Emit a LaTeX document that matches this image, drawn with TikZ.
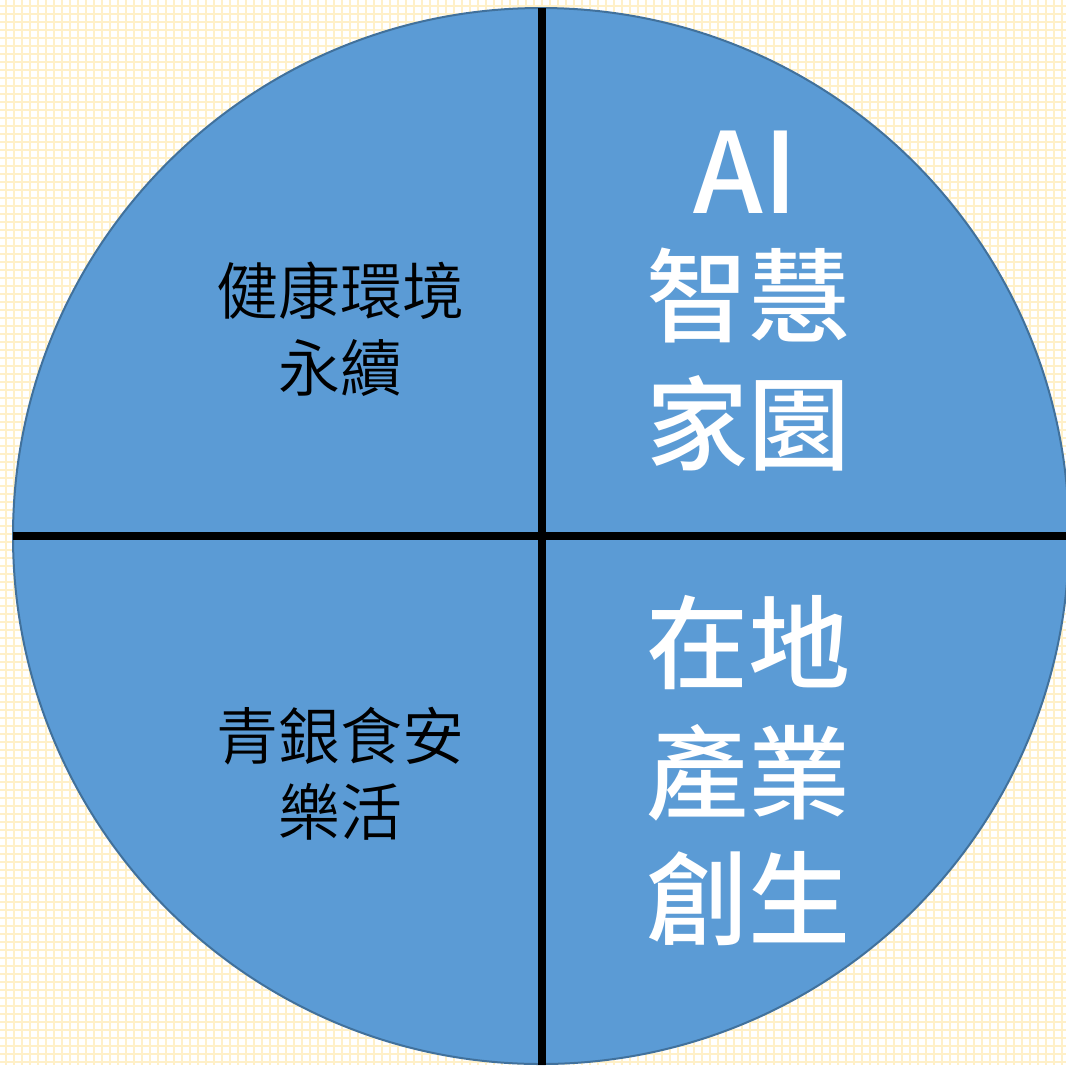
\documentclass[tikz,border=0pt]{standalone}
\usepackage{fontspec}
\newfontfamily\cjklight{Noto Sans CJK TC DemiLight}
\newfontfamily\cjkmed{Noto Sans CJK TC Medium}
\definecolor{gridcol}{HTML}{FFF0C8}
\definecolor{fillblue}{HTML}{5B9BD5}
\definecolor{edgeblue}{HTML}{41719C}
\tikzset{
  lefttext/.style={font=\cjklight\fontsize{46.5pt}{50pt}\selectfont, text=black, inner sep=0pt, text height=0.88em, text depth=0.12em},
  righttext/.style={font=\cjkmed\fontsize{76.5pt}{80pt}\selectfont, text=white, inner sep=0pt, text height=0.88em, text depth=0.12em},
  aitext/.style={font=\cjkmed\fontsize{84pt}{88pt}\selectfont, text=white, inner sep=0pt, anchor=base},
  divider/.style={line width=6pt, draw=black},
}
\begin{document}
\begin{tikzpicture}[x=0.75pt,y=-0.75pt]
\useasboundingbox (0,0) rectangle (1066,1065);
\clip (0,0) rectangle (1066,1065);
\fill[white] (0,0) rectangle (1066,1065);
\foreach \k in {0,...,133} {
  \draw[gridcol, line width=1.5pt] ({6+8*\k},0) -- ({6+8*\k},1065);
  \draw[gridcol, line width=1.5pt] (0,{6+8*\k}) -- (1066,{6+8*\k});
}
\coordinate (c) at (541,536);
\node[circle, minimum size=1056*0.75pt, inner sep=0pt, fill=fillblue, draw=edgeblue, line width=1.5pt] (disc) at (c) {};
\coordinate (vtop) at (542,8);
\coordinate (vbot) at (542,1065);
\coordinate (hleft) at (13,536);
\coordinate (hright) at (1066,536);
\draw[divider] (vtop) -- (vbot);
\draw[divider] (hleft) -- (hright);
\node[lefttext] (t1a) at (340,309) {健康環境};
\node[lefttext] (t1b) at (340,386) {永續};
\node[lefttext] (t3a) at (340,754) {青銀食安};
\node[lefttext] (t3b) at (340,830) {樂活};
\node[aitext] (ai) at (746,213) {AI};
\node[righttext] (t2a) at (748,329) {智慧};
\node[righttext] (t2b) at (748,457) {家園};
\node[righttext] (t4a) at (748,676) {在地};
\node[righttext] (t4b) at (748,806) {產業};
\node[righttext] (t4c) at (748,932) {創生};
\end{tikzpicture}
\end{document}
